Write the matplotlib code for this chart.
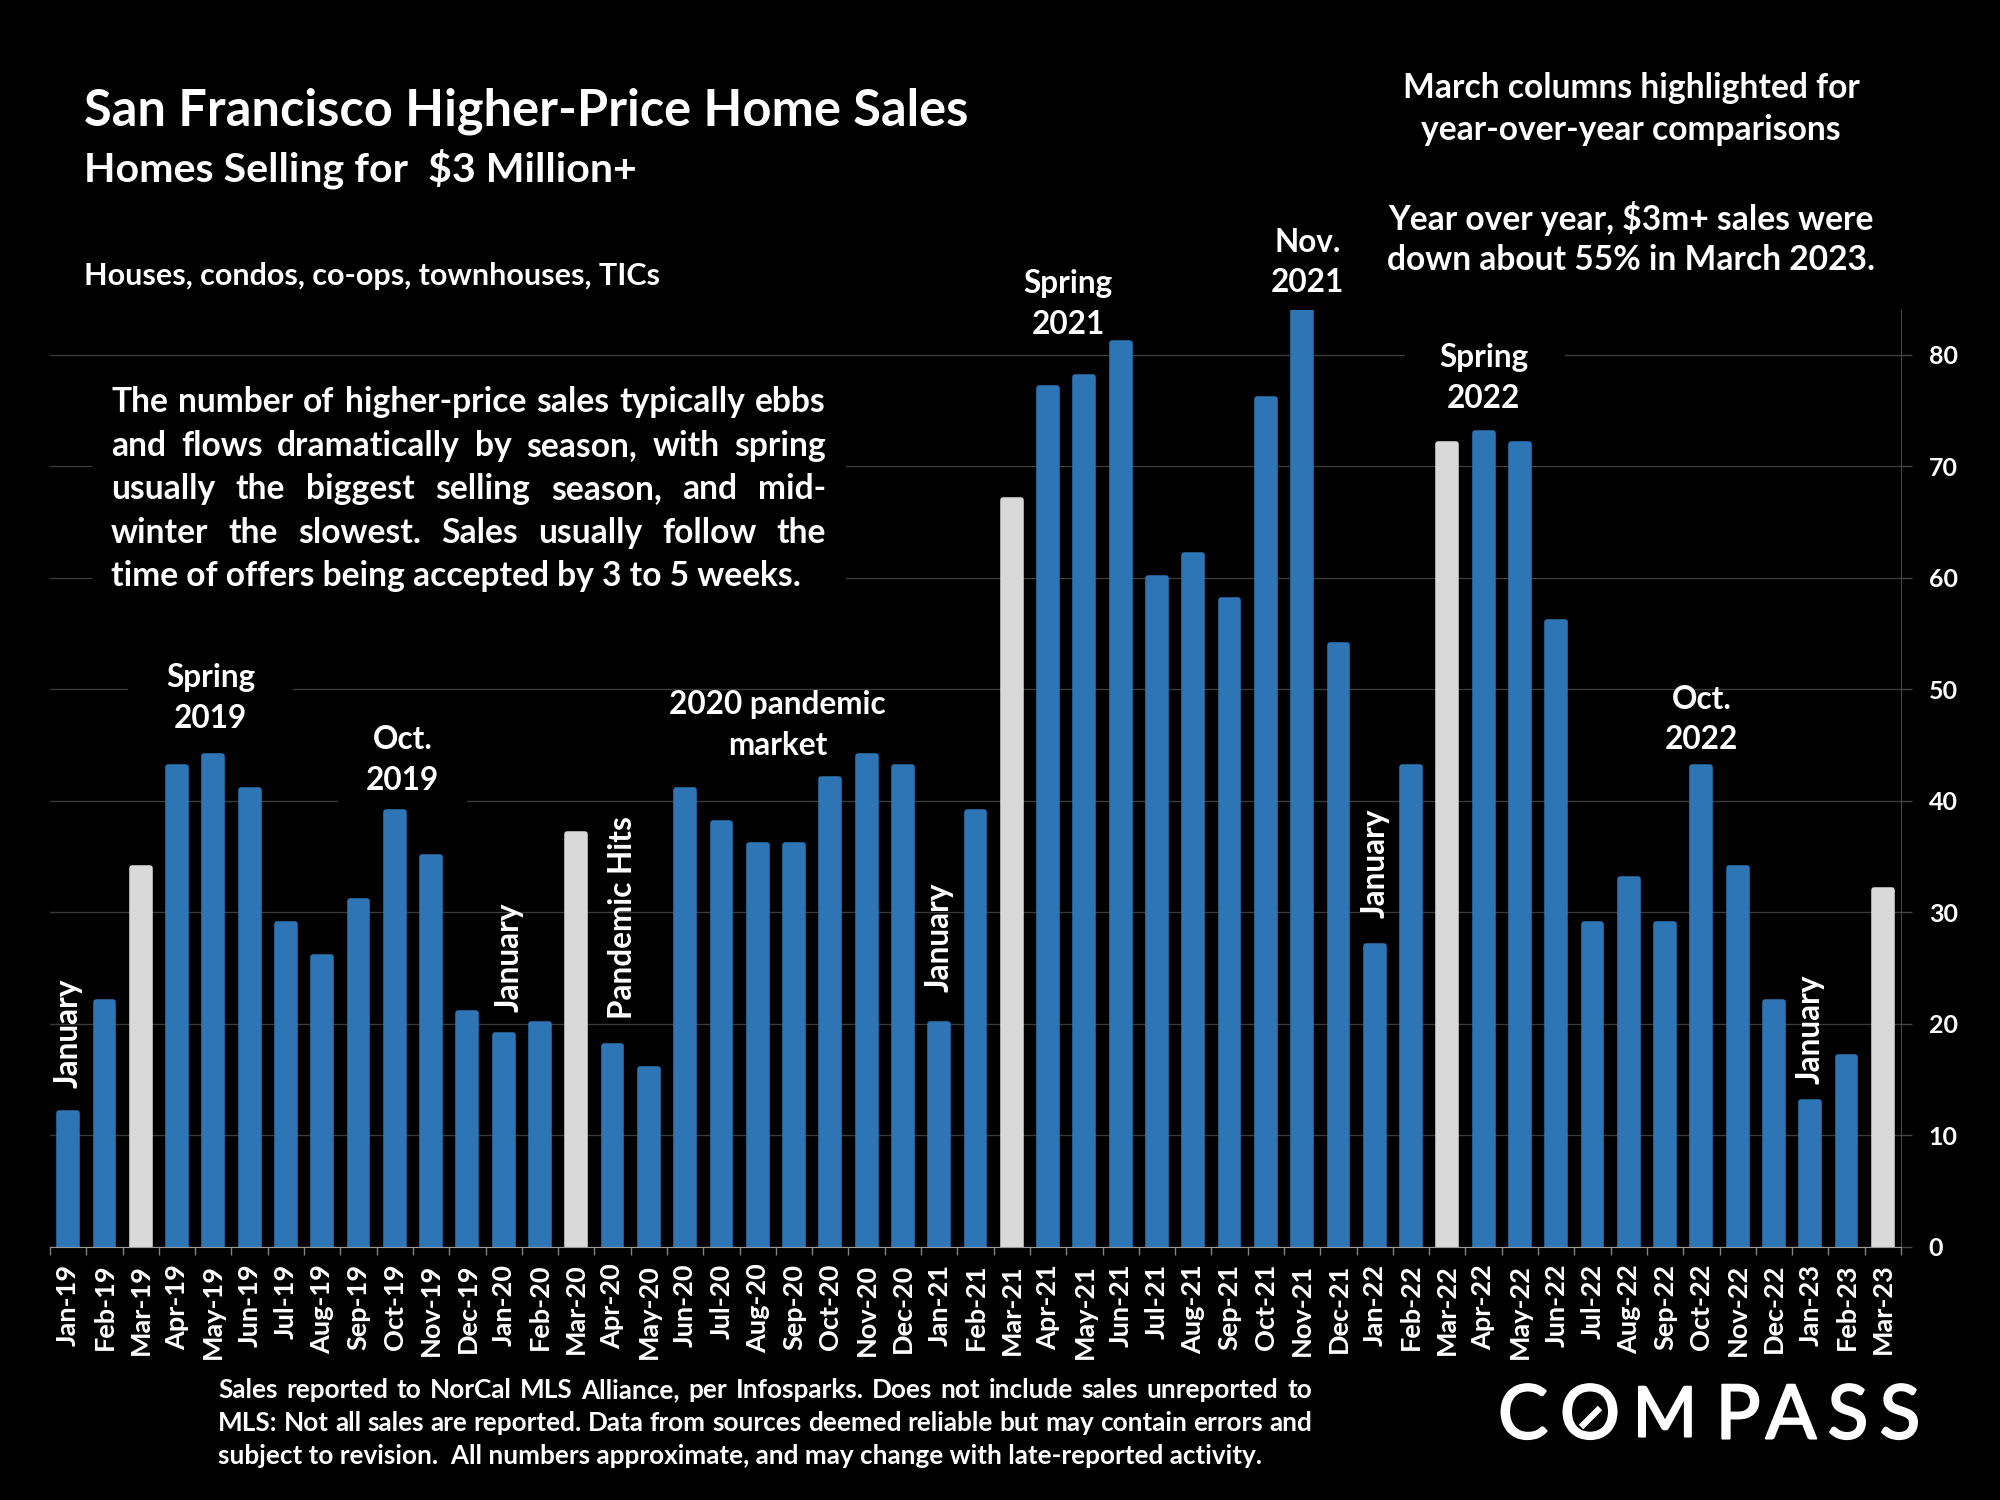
import matplotlib
matplotlib.use('Agg')
import matplotlib.pyplot as plt
import matplotlib.patheffects as pe
from matplotlib.lines import Line2D
from matplotlib.patches import Rectangle

plt.rcParams['font.family'] = ['Lato', 'DejaVu Sans']
plt.rcParams['font.weight'] = 'bold'

months = ['Jan', 'Feb', 'Mar', 'Apr', 'May', 'Jun', 'Jul', 'Aug', 'Sep', 'Oct', 'Nov', 'Dec']
labels = [m + '-' + y for y in ['19', '20', '21', '22'] for m in months] + ['Jan-23', 'Feb-23', 'Mar-23']

sales = [12, 22, 34, 43, 44, 41, 29, 26, 31, 39, 35, 21,
         19, 20, 37, 18, 16, 41, 38, 36, 36, 42, 44, 43,
         20, 39, 67, 77, 78, 81, 60, 62, 58, 76, 84, 54,
         27, 43, 72, 73, 72, 56, 29, 33, 29, 43, 34, 22,
         13, 17, 32]

y_ticks = [0, 10, 20, 30, 40, 50, 60, 70, 80]

# horizontal callouts: text, bar position, value height
callouts = [('Spring\n2019', 3.93, 49.2), ('Oct.\n2019', 9.22, 43.65), ('2020 pandemic\nmarket', 19.55, 46.8),
            ('Spring\n2021', 27.55, 84.55), ('Nov.\n2021', 34.15, 88.25), ('Spring\n2022', 39, 77.9),
            ('Oct.\n2022', 45, 47.3)]
# rotated callouts
side_notes = [('January', 0, 19.2), ('January', 12.15, 26), ('Pandemic Hits', 15.27, 29.5),
              ('January', 24, 27.8), ('January', 36, 34.4), ('January', 48, 19.5)]

paragraph = ['The number of higher-price sales typically ebbs',
             'and flows dramatically by season, with spring',
             'usually the biggest selling season, and mid-',
             'winter the slowest. Sales usually follow the']
paragraph_end = 'time of offers being accepted by 3 to 5 weeks.'

footnote = ['Sales reported to NorCal MLS Alliance, per Infosparks. Does not include sales unreported to',
            'MLS: Not all sales are reported. Data from sources deemed reliable but may contain errors and']
footnote_end = 'subject to revision.  All numbers approximate, and may change with late-reported activity.'

W, H = 2000, 1500
BLUE = '#2E75B6'
GREY = '#D9D9D9'


def fx(x):
    return x / W


def fy(y):
    return 1 - y / H


fig = plt.figure(figsize=(20, 15), dpi=100, facecolor='black')
ax = fig.add_axes([fx(50), fy(1247), (1901 - 50) / W, (1247 - 310) / H], facecolor='black')

colors = [GREY if l.startswith('Mar') else BLUE for l in labels]
# edge in the bar colour gives the slightly rounded tops
ax.bar(range(len(sales)), sales, width=0.49, color=colors, edgecolor=colors, lw=4, joinstyle='round', zorder=2)

ax.set_xlim(-0.5, len(sales) - 0.5)
ax.set_ylim(0, 84)
ax.yaxis.tick_right()
ax.set_yticks(y_ticks)
ax.set_xticks([i - 0.5 for i in range(len(sales) + 1)])
ax.set_xticklabels([])
ax.set_xticks(range(len(sales)), labels=labels, minor=True, rotation=90, fontsize=19.5, color='white', fontweight='bold')
ax.tick_params(axis='x', which='minor', length=0, pad=12)
ax.tick_params(axis='x', which='major', length=6, width=1, color='#808080')
ax.tick_params(axis='y', length=8, width=1, color='#4a4640', labelcolor='white', labelsize=18, pad=12)
for lab in ax.get_yticklabels():
    lab.set_fontweight('bold')
ax.grid(axis='y', color='#3c3a38', lw=1)
ax.set_axisbelow(True)
for side in ['top', 'left']:
    ax.spines[side].set_visible(False)
ax.spines['right'].set_color('#4a4640')
ax.spines['bottom'].set_color('#9a9a9a')


# black boxes that interrupt the gridlines behind the text
def mask(x0, x1, y0, y1):
    ax.add_patch(Rectangle((fx(x0), fy(y1)), (x1 - x0) / W, (y1 - y0) / H, transform=fig.transFigure,
                           facecolor='black', edgecolor='none', zorder=1.5, clip_on=False))


mask(128, 293, 660, 730)
mask(338, 467, 770, 830)
mask(92, 846, 376, 593)
mask(1405, 1565, 335, 375)

for txt, pos, val in callouts:
    ax.text(pos, val, txt, ha='center', va='center', color='white', fontsize=22.7, linespacing=1.48, clip_on=False)
for txt, pos, val in side_notes:
    ax.text(pos, val, txt, ha='center', va='center', rotation=90, color='white', fontsize=22.7)


def put(x, y, txt, size, ha='left', **kw):
    return fig.text(fx(x), fy(y), txt, fontsize=size, color='white', ha=ha, va='center', **kw)


# lay words out so a line fills x0..x1
def justify(line, x0, x1, y, size):
    words = line.split()
    rend = fig.canvas.get_renderer()
    items = [put(x0, y, w, size) for w in words]
    widths = [t.get_window_extent(rend).width for t in items]
    gap = (x1 - x0 - sum(widths)) / (len(words) - 1)
    x = x0
    for t, w in zip(items, widths):
        t.set_x(fx(x))
        x += w + gap


put(84, 111, 'San Francisco Higher-Price Home Sales', 36.4)
put(84, 169, 'Homes Selling for  $3 Million+', 29.6)
put(84, 276, 'Houses, condos, co-ops, townhouses, TICs', 22)

for y, txt in zip([88, 130, 218, 260], ['March columns highlighted for', 'year-over-year comparisons',
                                        'Year over year, $3m+ sales were',
                                        'down about 55% in March 2023.']):
    put(1631, y, txt, 24.2, ha='center')

for y, line in zip([402, 446, 489, 533], paragraph):
    justify(line, 111, 826, y, 24.2)
put(111, 576, paragraph_end, 24.2)

for y, line in zip([1390, 1423], footnote):
    justify(line, 218, 1312, y, 18.8)
put(218, 1456, footnote_end, 18.8)

# logo
stroke = [pe.withStroke(linewidth=1.5, foreground='white')]
for x, ch, sz in zip([1523, 1590, 1665, 1738, 1791, 1848, 1900], 'COMPASS', [54, 54, 50, 54, 54, 54, 54]):
    fig.text(fx(x), fy(1417), ch, fontsize=sz, color='white', ha='center', va='center', fontweight='normal',
             path_effects=stroke)
fig.add_artist(Line2D([fx(1581), fx(1600)], [fy(1427), fy(1408)], color='white', lw=4.5, solid_capstyle='butt'))

fig.savefig('out.png', dpi=100, facecolor='black')
